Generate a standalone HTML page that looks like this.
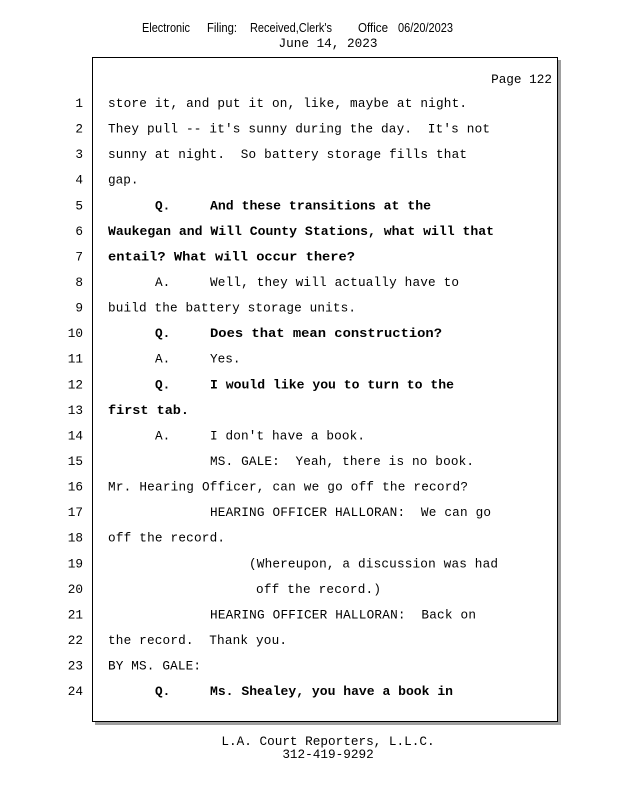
<!DOCTYPE html>
<html><head><meta charset="utf-8"><style>
html,body{margin:0;padding:0;background:#fff;}
svg{display:block}
.m{font-family:"Liberation Mono",monospace;font-size:12.7px;fill:#000;white-space:pre}
.b{font-family:"Liberation Mono",monospace;font-size:12.7px;font-weight:bold;fill:#000;white-space:pre}
.n{font-family:"Liberation Mono",monospace;font-size:12.7px;fill:#000;text-anchor:end}
.h{font-family:"Liberation Sans",sans-serif;font-size:12.5px;fill:#000}
</style></head><body>
<svg width="618" height="800" xmlns="http://www.w3.org/2000/svg">
<text class="h" x="142" y="32" textLength="48" lengthAdjust="spacingAndGlyphs">Electronic</text>
<text class="h" x="207" y="32" textLength="30" lengthAdjust="spacingAndGlyphs">Filing:</text>
<text class="h" x="250" y="32" textLength="82" lengthAdjust="spacingAndGlyphs">Received,Clerk's</text>
<text class="h" x="358" y="32" textLength="30" lengthAdjust="spacingAndGlyphs">Office</text>
<text class="h" x="398" y="32" textLength="55" lengthAdjust="spacingAndGlyphs">06/20/2023</text>
<text class="m" x="328" y="47" text-anchor="middle">June 14, 2023</text>

<rect x="95" y="60" width="466" height="665" fill="#a0a0a0"/>
<rect x="92.5" y="57.5" width="465" height="664" fill="#fff" stroke="#000" stroke-width="1"/>

<text class="m" x="552" y="83" text-anchor="end">Page 122</text>

<g class="n">
<text class="n" x="83" y="107">1</text>
<text class="n" x="83" y="132.6">2</text>
<text class="n" x="83" y="158.1">3</text>
<text class="n" x="83" y="183.7">4</text>
<text class="n" x="83" y="209.3">5</text>
<text class="n" x="83" y="234.9">6</text>
<text class="n" x="83" y="260.4">7</text>
<text class="n" x="83" y="286">8</text>
<text class="n" x="83" y="311.6">9</text>
<text class="n" x="83" y="337.1">10</text>
<text class="n" x="83" y="362.7">11</text>
<text class="n" x="83" y="388.3">12</text>
<text class="n" x="83" y="413.8">13</text>
<text class="n" x="83" y="439.4">14</text>
<text class="n" x="83" y="465">15</text>
<text class="n" x="83" y="490.6">16</text>
<text class="n" x="83" y="516.1">17</text>
<text class="n" x="83" y="541.7">18</text>
<text class="n" x="83" y="567.3">19</text>
<text class="n" x="83" y="592.8">20</text>
<text class="n" x="83" y="618.4">21</text>
<text class="n" x="83" y="644">22</text>
<text class="n" x="83" y="669.5">23</text>
<text class="n" x="83" y="695.1">24</text>
</g>

<text class="m" x="108" y="107" textLength="359">store it, and put it on, like, maybe at night.</text>
<text class="m" x="108" y="132.6" textLength="382">They pull -- it's sunny during the day.  It's not</text>
<text class="m" x="108" y="158.1" textLength="359">sunny at night.  So battery storage fills that</text>
<text class="m" x="108" y="183.7">gap.</text>
<text class="b" x="155" y="209.3">Q.</text>
<text class="b" x="210" y="209.3" textLength="221" lengthAdjust="spacingAndGlyphs">And these transitions at the</text>
<text class="b" x="108" y="234.9" textLength="386" lengthAdjust="spacingAndGlyphs">Waukegan and Will County Stations, what will that</text>
<text class="b" x="108" y="260.4" textLength="247" lengthAdjust="spacingAndGlyphs">entail? What will occur there?</text>
<text class="m" x="155" y="286">A.</text>
<text class="m" x="210" y="286" textLength="249">Well, they will actually have to</text>
<text class="m" x="108" y="311.6" textLength="248">build the battery storage units.</text>
<text class="b" x="155" y="337.1">Q.</text>
<text class="b" x="210" y="337.1" textLength="232" lengthAdjust="spacingAndGlyphs">Does that mean construction?</text>
<text class="m" x="155" y="362.7">A.</text>
<text class="m" x="210" y="362.7">Yes.</text>
<text class="b" x="155" y="388.3">Q.</text>
<text class="b" x="210" y="388.3" textLength="244" lengthAdjust="spacingAndGlyphs">I would like you to turn to the</text>
<text class="b" x="108" y="413.8" textLength="81" lengthAdjust="spacingAndGlyphs">first tab.</text>
<text class="m" x="155" y="439.4">A.</text>
<text class="m" x="210" y="439.4" textLength="155">I don't have a book.</text>
<text class="m" x="210" y="465" textLength="264">MS. GALE:  Yeah, there is no book.</text>
<text class="m" x="108" y="490.6" textLength="360">Mr. Hearing Officer, can we go off the record?</text>
<text class="m" x="210" y="516.1" textLength="281">HEARING OFFICER HALLORAN:  We can go</text>
<text class="m" x="108" y="541.7" textLength="117">off the record.</text>
<text class="m" x="249" y="567.3" textLength="249">(Whereupon, a discussion was had</text>
<text class="m" x="256" y="592.8" textLength="125">off the record.)</text>
<text class="m" x="210" y="618.4" textLength="266">HEARING OFFICER HALLORAN:  Back on</text>
<text class="m" x="108" y="644" textLength="179">the record.  Thank you.</text>
<text class="m" x="108" y="669.5" textLength="93">BY MS. GALE:</text>
<text class="b" x="155" y="695.1">Q.</text>
<text class="b" x="210" y="695.1" textLength="243" lengthAdjust="spacingAndGlyphs">Ms. Shealey, you have a book in</text>

<text class="m" x="328" y="745" text-anchor="middle">L.A. Court Reporters, L.L.C.</text>
<text class="m" x="328" y="758" text-anchor="middle">312-419-9292</text>
</svg>
</body></html>
